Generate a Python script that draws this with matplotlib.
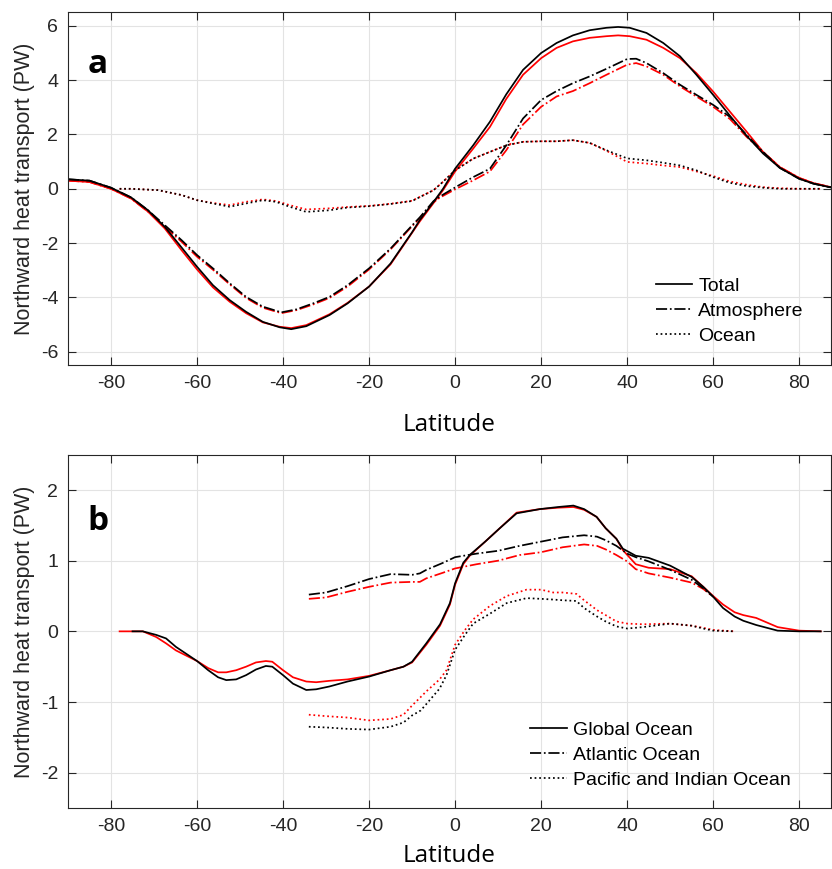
import matplotlib.pyplot as plt

plt.rcParams['font.family'] = ['Liberation Sans', 'DejaVu Sans']
plt.rcParams['axes.unicode_minus'] = False

# ---- panel a: total / atmosphere / ocean (black and red estimates)
lat_tot = [-90, -85, -80, -75.3, -71.4, -67.5, -63.6, -60, -56.3, -52.4, -48.6, -44.7, -40.8, -38.1,
           -34.6, -29.2, -25, -20, -15, -10, -8.2, -5, -2.8, 0, 4.2, 8.1, 11.9, 15.8, 20, 23.6,
           27.4, 31.3, 35.2, 37.9, 40.6, 44.5, 48.4, 52.3, 56.1, 60, 63.9, 67.8, 71.6, 75.5, 80,
           83.3, 87.1, 90]
tot_k = [0.35, 0.3, 0.04, -0.32, -0.79, -1.4, -2.16, -2.87, -3.55, -4.1, -4.53, -4.9, -5.1, -5.17,
         -5.06, -4.65, -4.22, -3.6, -2.75, -1.6, -1.15, -0.48, 0.0, 0.74, 1.6, 2.47, 3.48, 4.38, 5.0,
         5.37, 5.65, 5.84, 5.93, 5.96, 5.93, 5.74, 5.37, 4.88, 4.2, 3.46, 2.69, 1.95, 1.3, 0.77,
         0.37, 0.19, 0.06, 0.0]
tot_r = [0.3, 0.25, 0.0, -0.36, -0.84, -1.46, -2.26, -2.97, -3.63, -4.16, -4.58, -4.92, -5.08, -5.13,
         -5.02, -4.62, -4.2, -3.6, -2.78, -1.62, -1.2, -0.52, -0.05, 0.64, 1.48, 2.28, 3.31, 4.2, 4.81,
         5.19, 5.43, 5.56, 5.62, 5.65, 5.62, 5.49, 5.19, 4.81, 4.26, 3.58, 2.84, 2.1, 1.36, 0.8,
         0.4, 0.21, 0.07, 0.0]

lat_atm = [-90, -85, -80, -75.3, -71.4, -67.5, -63.6, -60, -56.3, -52.4, -48.6, -44.7, -40.4, -36.9,
           -33, -29.2, -25, -20, -15, -10, -8.2, -5, -3.6, 0, 4.2, 8.1, 11.9, 15.8, 20, 23.6, 27.4,
           31.3, 35.2, 40, 42.1, 44.5, 48.4, 52.3, 56.1, 60, 63.9, 67.8, 71.6, 75.5, 80, 83.3, 87.1, 90]
atm_k = [0.35, 0.3, 0.04, -0.32, -0.79, -1.34, -1.89, -2.44, -2.93, -3.48, -3.98, -4.34, -4.55, -4.44,
         -4.22, -3.98, -3.55, -2.93, -2.2, -1.35, -1.05, -0.45, -0.29, 0.05, 0.43, 0.74, 1.6, 2.59,
         3.27, 3.6, 3.89, 4.14, 4.42, 4.78, 4.79, 4.63, 4.26, 3.83, 3.46, 3.09, 2.65, 1.98, 1.36,
         0.77, 0.37, 0.19, 0.06, 0.0]
atm_r = [0.3, 0.25, 0.0, -0.36, -0.84, -1.4, -1.95, -2.5, -2.98, -3.52, -4.02, -4.38, -4.58, -4.47,
         -4.26, -4.02, -3.6, -2.97, -2.23, -1.38, -1.08, -0.5, -0.33, -0.02, 0.31, 0.64, 1.42, 2.37,
         3.02, 3.4, 3.6, 3.89, 4.2, 4.57, 4.63, 4.51, 4.2, 3.77, 3.4, 3.02, 2.57, 1.91, 1.36,
         0.8, 0.4, 0.21, 0.07, 0.0]

lat_ocn = [-78, -75.3, -69, -63.6, -60, -56.3, -52.4, -48.6, -44.7, -41.6, -38.5, -34.6, -29.2, -25,
           -20, -15, -10, -5, -2.8, 0, 4.2, 8.1, 11.9, 15.8, 20, 23.6, 27.4, 31.3, 35.2, 40, 44.5,
           48.4, 52.3, 56.1, 60, 63.9, 67.8, 71.6, 75.5, 80, 85]
ocn_k = [0.0, 0.0, -0.05, -0.23, -0.42, -0.54, -0.66, -0.54, -0.42, -0.48, -0.66, -0.85, -0.79, -0.69,
         -0.64, -0.56, -0.45, -0.05, 0.26, 0.68, 1.11, 1.36, 1.6, 1.73, 1.75, 1.75, 1.79, 1.69, 1.42,
         1.12, 1.05, 0.96, 0.86, 0.68, 0.43, 0.22, 0.1, 0.04, 0.0, 0.0, 0.0]
ocn_r = [0.0, 0.0, -0.05, -0.23, -0.42, -0.52, -0.6, -0.48, -0.39, -0.45, -0.6, -0.76, -0.72, -0.67,
         -0.63, -0.55, -0.44, -0.05, 0.26, 0.68, 1.11, 1.36, 1.6, 1.73, 1.75, 1.75, 1.79, 1.69, 1.4,
         0.99, 0.93, 0.86, 0.8, 0.64, 0.47, 0.27, 0.15, 0.06, 0.02, 0.0, 0.0]

# ---- panel b: global / atlantic / pacific+indian ocean
lat_glo = [-72.6, -69.5, -67.2, -64.9, -60, -57.4, -55.1, -53.2, -50.9, -48.6, -46.3, -44, -42.5,
           -40, -37.7, -34.6, -32.3, -29.2, -25, -20, -15, -12, -10, -6.7, -3.5, -1.2, 0, 1.9, 3.4,
           7, 10.4, 14.3, 19.7, 24, 27.5, 30, 32.9, 35, 37.5, 39, 42, 45, 50, 55, 57.7, 60, 62.3,
           65, 67, 70, 75, 80, 85]
glo_k = [0.0, -0.05, -0.1, -0.22, -0.42, -0.55, -0.65, -0.69, -0.68, -0.62, -0.54, -0.49, -0.5,
         -0.62, -0.74, -0.83, -0.82, -0.78, -0.71, -0.64, -0.55, -0.5, -0.43, -0.17, 0.1, 0.4, 0.68,
         0.97, 1.08, 1.27, 1.46, 1.67, 1.73, 1.76, 1.78, 1.73, 1.62, 1.46, 1.31, 1.17, 1.07, 1.04,
         0.93, 0.77, 0.63, 0.49, 0.33, 0.21, 0.15, 0.09, 0.01, 0.0, 0.0]
glo_r = [0.0, -0.08, -0.17, -0.27, -0.42, -0.52, -0.58, -0.58, -0.55, -0.5, -0.44, -0.42, -0.43,
         -0.55, -0.65, -0.71, -0.72, -0.7, -0.68, -0.63, -0.55, -0.5, -0.44, -0.19, 0.08, 0.38, 0.66,
         0.95, 1.07, 1.27, 1.46, 1.68, 1.73, 1.75, 1.76, 1.72, 1.62, 1.46, 1.31, 1.15, 0.95, 0.9,
         0.88, 0.78, 0.63, 0.5, 0.38, 0.27, 0.23, 0.19, 0.06, 0.01, 0.0]
glo_start_k = -75   # black starts here
glo_start_r = -78   # red starts a bit further south

lat_atl = [-34, -30, -25, -20, -15, -10, -8.2, -6.7, -2.8, 0, 5, 10, 15, 20, 25, 30, 33, 35, 37.5,
           40, 42, 45, 50, 55, 57.7, 60]
atl_k = [0.52, 0.55, 0.64, 0.74, 0.81, 0.8, 0.82, 0.87, 0.97, 1.05, 1.1, 1.14, 1.21, 1.27, 1.33,
         1.36, 1.34, 1.29, 1.21, 1.1, 1.05, 0.99, 0.87, 0.73, 0.61, 0.49]
atl_r = [0.46, 0.48, 0.56, 0.63, 0.69, 0.7, 0.7, 0.75, 0.83, 0.89, 0.95, 1.0, 1.08, 1.12, 1.19,
         1.23, 1.21, 1.16, 1.08, 0.99, 0.88, 0.82, 0.76, 0.69, 0.6, 0.49]

lat_pi = [-34, -30, -25, -20, -15, -12, -10, -8, -6.7, -3.6, -2, 0, 2.3, 4.2, 8.1, 12, 16.6, 20,
          22.8, 25, 28.2, 30, 33, 35, 37.5, 40, 43.7, 50, 55, 57.7, 60, 65]
pi_k = [-1.35, -1.36, -1.38, -1.39, -1.35, -1.29, -1.19, -1.12, -1.03, -0.81, -0.62, -0.26, -0.05,
        0.11, 0.25, 0.4, 0.47, 0.46, 0.45, 0.44, 0.43, 0.33, 0.21, 0.14, 0.07, 0.04, 0.06, 0.11,
        0.08, 0.04, 0.01, 0.0]
pi_r = [-1.18, -1.2, -1.22, -1.26, -1.24, -1.18, -1.05, -0.93, -0.85, -0.68, -0.55, -0.19, 0.02,
        0.17, 0.36, 0.5, 0.59, 0.59, 0.55, 0.55, 0.53, 0.44, 0.3, 0.23, 0.14, 0.11, 0.1, 0.11,
        0.08, 0.05, 0.02, 0.0]

W, H = 832, 869
fig = plt.figure(figsize=(W / 100, H / 100), dpi=100)
ax_a = fig.add_axes([68 / W, (H - 365.3) / H, 763 / W, 353 / H])
ax_b = fig.add_axes([68 / W, (H - 808) / H, 763 / W, 353.3 / H])

LW = 1.25
TXT = '#262626'


def style_axes(ax, ylim, yticks, letter, label_y, letter_y):
    ax.set_xlim(-90, 87.4)
    ax.set_ylim(*ylim)
    ax.set_xticks(range(-80, 81, 20))
    ax.set_yticks(yticks)
    ax.grid(True, color='#e3e3e3', lw=0.8)
    ax.set_axisbelow(True)
    for s in ax.spines.values():
        s.set_color(TXT)
        s.set_linewidth(0.8)
    ax.tick_params(direction='in', length=6, width=0.8, top=True, right=True,
                   labelsize=14, colors=TXT, pad=7)
    ax.set_ylabel('Northward heat transport (PW)', fontsize=15.5, color=TXT, labelpad=4)
    ax.set_xlabel('Latitude', fontsize=17.5, family=['Open Sans', 'DejaVu Sans'], color='black')
    ax.xaxis.set_label_coords(0.5, label_y)
    ax.text(0.039, letter_y, letter, transform=ax.transAxes, ha='center', va='baseline',
            fontsize=24, fontweight='bold', family=['Open Sans', 'DejaVu Sans'])


# panel a
ax_a.plot(lat_tot, tot_r, color='red', lw=LW)
ax_a.plot(lat_atm, atm_r, color='red', lw=LW, ls='-.')
ax_a.plot(lat_ocn, ocn_r, color='red', lw=LW, ls=':')
ax_a.plot(lat_tot, tot_k, color='black', lw=LW, label='Total')
ax_a.plot(lat_atm, atm_k, color='black', lw=LW, ls='-.', label='Atmosphere')
ax_a.plot(lat_ocn, ocn_k, color='black', lw=LW, ls=':', label='Ocean')
style_axes(ax_a, (-6.5, 6.5), range(-6, 7, 2), 'a', -0.136, 0.827)
ax_a.legend(loc='upper left', bbox_to_anchor=(0.770, 0.249), frameon=False, fontsize=14,
            handlelength=1.9, handletextpad=0.3, labelspacing=0.38, borderpad=0, borderaxespad=0)

# panel b
ax_b.plot([glo_start_r] + lat_glo, [0.0] + glo_r, color='red', lw=LW)
ax_b.plot(lat_atl, atl_r, color='red', lw=LW, ls='-.')
ax_b.plot(lat_pi, pi_r, color='red', lw=LW, ls=':')
ax_b.plot([glo_start_k] + lat_glo, [0.0] + glo_k, color='black', lw=LW, label='Global Ocean')
ax_b.plot(lat_atl, atl_k, color='black', lw=LW, ls='-.', label='Atlantic Ocean')
ax_b.plot(lat_pi, pi_k, color='black', lw=LW, ls=':', label='Pacific and Indian Ocean')
style_axes(ax_b, (-2.5, 2.5), range(-2, 3, 1), 'b', -0.103, 0.787)
ax_b.legend(loc='upper left', bbox_to_anchor=(0.6055, 0.245), frameon=False, fontsize=14,
            handlelength=1.9, handletextpad=0.3, labelspacing=0.38, borderpad=0, borderaxespad=0)

fig.savefig('out.png', dpi=100)
